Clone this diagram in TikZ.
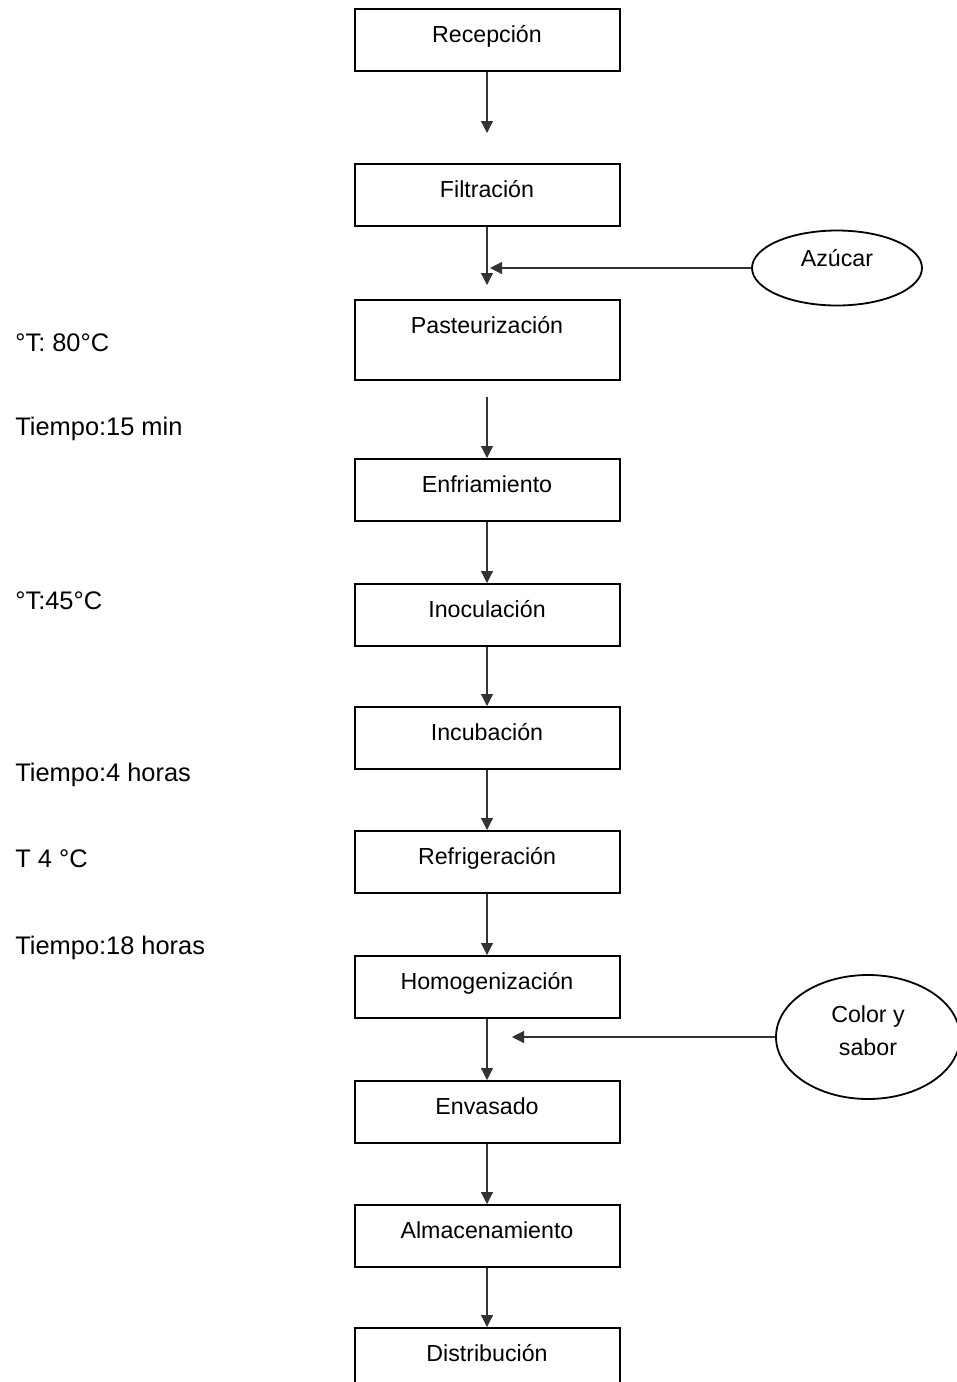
\documentclass[tikz,border=0pt]{standalone}
\usepackage{fontspec}
\setmainfont{Liberation Sans}
\usetikzlibrary{arrows.meta,shapes.geometric}
\begin{document}
\begin{tikzpicture}[x=0.5pt,y=-0.5pt,
  font=\fontsize{11.6}{16.5}\selectfont,
  paso/.style={draw, line width=1pt, anchor=north, minimum width=132.5pt,
    inner ysep=0pt, text height=16.5pt, text depth=14.5pt},
  insumo/.style={draw, ellipse, line width=0.9pt, inner sep=0pt},
  flecha/.style={line width=0.6pt, draw=black!80, -{Triangle[length=6pt,width=6pt]}},
  dato/.style={anchor=base west, inner sep=0pt, font=\fontsize{12.7}{15}\selectfont}]
  \useasboundingbox (0,0) rectangle (957,1382);
  % etapas del proceso
  \node[paso] (rec) at (487,8) {Recepción};
  \node[paso] (fil) at (487,163) {Filtración};
  \node[paso, text depth=23.5pt] (pas) at (487,299) {Pasteurización};
  \node[paso] (enf) at (487,458) {Enfriamiento};
  \node[paso] (ino) at (487,583) {Inoculación};
  \node[paso] (inc) at (487,706) {Incubación};
  \node[paso] (ref) at (487,830) {Refrigeración};
  \node[paso] (hom) at (487,955) {Homogenización};
  \node[paso] (env) at (487,1080) {Envasado};
  \node[paso] (alm) at (487,1204) {Almacenamiento};
  \node[paso] (dis) at (487,1327) {Distribución};
  % insumos
  \node[insumo, minimum width=85pt, minimum height=37.5pt, text height=7pt, text depth=8.4pt] (azu) at (837,268) {Azúcar};
  \node[insumo, minimum width=92pt, minimum height=62pt, align=center, text depth=6pt] (col) at (868,1037) {Color y\\sabor};
  \coordinate (c1) at (490,268);
  \coordinate (c2) at (512,1037);
  % condiciones
  \node[dato] (t1) at (15,351) {°T: 80°C};
  \node[dato] (t2) at (15,435) {Tiempo:15 min};
  \node[dato] (t3) at (15,609) {°T:45°C};
  \node[dato] (t4) at (15,781) {Tiempo:4 horas};
  \node[dato] (t5) at (15,867) {T 4 °C};
  \node[dato] (t6) at (15,954) {Tiempo:18 horas};
  % flechas
  \draw[flecha, shorten >=15pt] (rec) -- (fil);
  \draw[flecha, shorten >=7pt] (fil) -- (pas);
  \draw[flecha] (azu) -- (c1);
  \draw[flecha, shorten <=8pt] (pas) -- (enf);
  \draw[flecha] (enf) -- (ino);
  \draw[flecha] (ino) -- (inc);
  \draw[flecha] (inc) -- (ref);
  \draw[flecha] (ref) -- (hom);
  \draw[flecha] (hom) -- (env);
  \draw[flecha] (col) -- (c2);
  \draw[flecha] (env) -- (alm);
  \draw[flecha] (alm) -- (dis);
\end{tikzpicture}
\end{document}
